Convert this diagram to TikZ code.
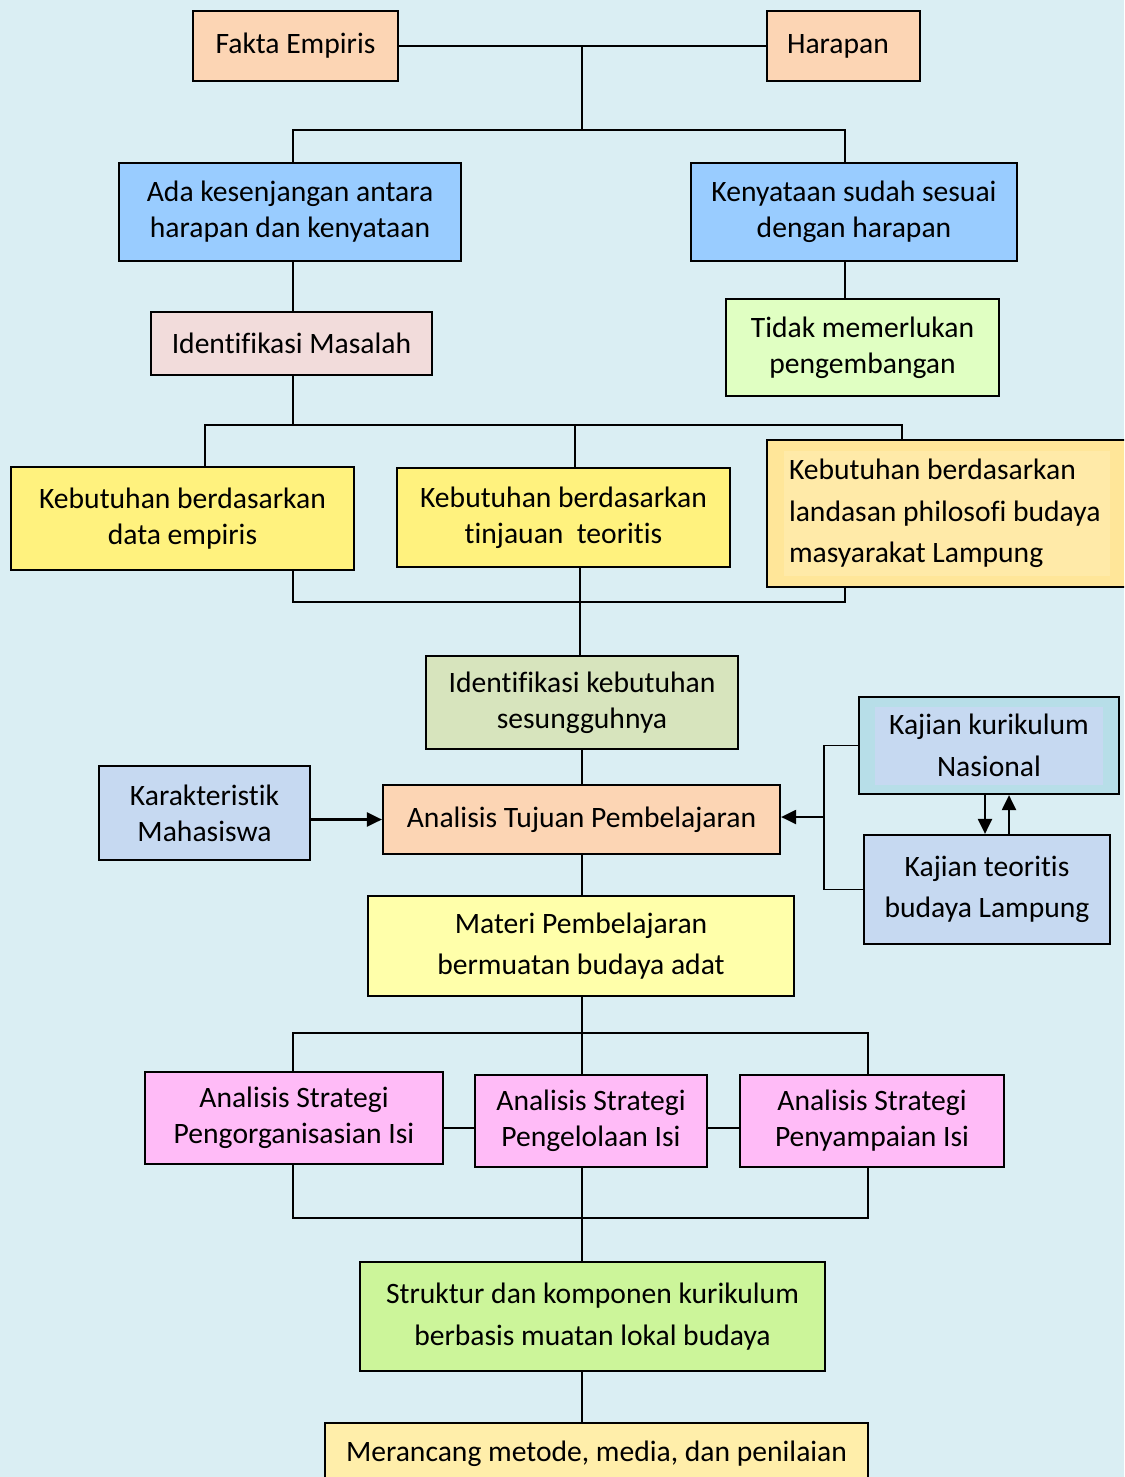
\documentclass[tikz,border=0pt]{standalone}
\usepackage{fontspec}
\setmainfont{Carlito}[Ligatures=NoCommon]
\usetikzlibrary{arrows.meta,calc}

\definecolor{bgc}{HTML}{DAEEF3}
\definecolor{peach}{HTML}{FCD5B4}
\definecolor{skyb}{HTML}{99CCFF}
\definecolor{rosec}{HTML}{F2DCDB}
\definecolor{limec}{HTML}{E0FFC2}
\definecolor{yelc}{HTML}{FFF27E}
\definecolor{goldo}{HTML}{FFE699}
\definecolor{goldi}{HTML}{FFEAA8}
\definecolor{olivec}{HTML}{D7E4BD}
\definecolor{lavc}{HTML}{C6D9F1}
\definecolor{tealc}{HTML}{B7DEE8}
\definecolor{paley}{HTML}{FFFFAA}
\definecolor{pinkc}{HTML}{FFBBF7}
\definecolor{greenc}{HTML}{CCF59A}
\definecolor{creamc}{HTML}{FFEEAA}

% box given by its corners (in pixel-like units) and fill colour
\newcommand\bx[8][]{%
  \node[box,fill=#7,minimum width={(#5-#3)*0.5pt},minimum height={(#6-#4)*0.5pt},#1]
    (#2) at ({(#3+#5)/2},{(#4+#6)/2}) {#8};}

\begin{document}
\begin{tikzpicture}[x=0.5pt,y=-0.5pt,
  box/.style={draw=black,line width=1.1pt,inner sep=0pt,align=center,
    font=\fontsize{14.8}{18}\selectfont},
  wide/.style={font=\fontsize{14.8}{20.7}\selectfont},
  link/.style={line width=0.9pt},
  arr/.style={line width=1.1pt,-{Triangle[length=7.5pt,width=7pt]}}]

\clip (0,0) rectangle (1124,1477);
\fill[bgc] (0,0) rectangle (1124,1477);

% top level
\bx{fakta}{193}{11}{398}{81}{peach}{\raisebox{2pt}{Fakta Empiris}}
\bx{harapan}{767}{11}{920}{81}{peach}{\raisebox{2pt}{Harapan}\hspace*{5.5pt}}

\bx{ada}{119}{163}{461}{261}{skyb}{Ada kesenjangan antara\\harapan dan kenyataan}
\bx{keny}{691}{163}{1017}{261}{skyb}{Kenyataan sudah sesuai\\dengan harapan}

\bx{idm}{151}{312}{432}{375}{rosec}{Identifikasi Masalah}
\bx{tidak}{726}{299}{999}{396}{limec}{Tidak memerlukan\\pengembangan}

% needs
\bx{kd}{11}{467}{354}{570}{yelc}{Kebutuhan berdasarkan\\data empiris}
\bx{kt}{397}{468}{730}{567}{yelc}{Kebutuhan berdasarkan\\tinjauan\ \ teoritis}
\bx[wide,align=flush left,text width=159.5pt,
  path picture={\fill[goldi] ([shift={(8.5pt,-5.5pt)}]path picture bounding box.north west)
    rectangle ([shift={(-10pt,5.5pt)}]path picture bounding box.south east);}]
  {kl}{767}{440}{1130}{587}{goldo}{Kebutuhan berdasarkan\\landasan philosofi budaya\\masyarakat Lampung}

\bx{ikb}{426}{656}{738}{749}{olivec}{Identifikasi kebutuhan\\sesungguhnya}
\bx{atp}{383}{785}{780}{854}{peach}{Analisis Tujuan Pembelajaran}
\bx{km}{99}{766}{310}{860}{lavc}{Karakteristik\\Mahasiswa}
\bx[wide,
  path picture={\fill[lavc] ([shift={(8pt,-5pt)}]path picture bounding box.north west)
    rectangle ([shift={(-8pt,4.5pt)}]path picture bounding box.south east);}]
  {kn}{859}{697}{1119}{794}{tealc}{Kajian kurikulum\\Nasional}
\bx[wide]{kb}{864}{835}{1110}{944}{lavc}{Kajian teoritis\\budaya Lampung}

\bx[wide]{mp}{368}{896}{794}{996}{paley}{Materi Pembelajaran\\bermuatan budaya adat}

\bx{s1}{145}{1072}{443}{1164}{pinkc}{Analisis Strategi\\Pengorganisasian Isi}
\bx{s2}{475}{1075}{707}{1167}{pinkc}{Analisis Strategi\\Pengelolaan Isi}
\bx{s3}{740}{1075}{1004}{1167}{pinkc}{Analisis Strategi\\Penyampaian Isi}

\bx[wide]{sk}{360}{1262}{825}{1371}{greenc}{Struktur dan komponen kurikulum\\berbasis muatan lokal budaya}
\bx{mr}{325}{1423}{868}{1484}{creamc}{Merancang metode, media, dan penilaian}

% junction points of the connectors
\coordinate (t1) at (582,46);
\coordinate (t2) at (582,130);
\coordinate (c1) at (293,130);
\coordinate (c2) at (845,130);
\coordinate (c3) at (293,425);
\coordinate (c4) at (205,425);
\coordinate (c5) at (575,425);
\coordinate (c6) at (902,425);
\coordinate (c7) at (293,602);
\coordinate (c8) at (845,602);
\coordinate (c9) at (580,602);
\coordinate (c10) at (824,817);
\coordinate (c11) at (985,0);
\coordinate (c12) at (1009,0);
\coordinate (c13) at (582,1033);
\coordinate (c14) at (293,1033);
\coordinate (c15) at (868,1033);
\coordinate (c16) at (293,1218);
\coordinate (c17) at (868,1218);
\coordinate (c18) at (582,1218);

% connectors
\draw[link] (fakta.east) -- (harapan.west);
\draw[link] (t1) -- (t2);
\draw[link] (ada.north -| c1) -- (c1) -- (c2) -- (keny.north -| c2);
\draw[link] (ada.south -| c1) -- (idm.north -| c1);
\draw[link] (keny.south -| c2) -- (tidak.north -| c2);
\draw[link] (idm.south -| c3) -- (c3);
\draw[link] (kd.north -| c4) -- (c4) -- (c6) -- (kl.north -| c6);
\draw[link] (c5) -- (kt.north -| c5);
\draw[link] (kd.south -| c7) -- (c7) -- (c8) -- (kl.south -| c8);
\draw[link] (kt.south -| c9) -- (ikb.north -| c9);
\draw[link] (ikb.south -| t1) -- (atp.north -| t1);
\draw[arr] (atp.west -| km.east) -- (atp.west);
\draw[link] (kn.west) -- (kn.west -| c10) -- (kb.west -| c10) -- (kb.west);
\draw[arr] (c10) -- (c10 -| atp.east);
\draw[arr] (kn.south -| c11) -- (kb.north -| c11);
\draw[arr] (kb.north -| c12) -- (kn.south -| c12);
\draw[link] (atp.south -| c13) -- (mp.north -| c13);
\draw[link] (mp.south -| c13) -- (c13);
\draw[link] (s1.north -| c14) -- (c14) -- (c15) -- (s3.north -| c15);
\draw[link] (c13) -- (s2.north -| c13);
\draw[link] ([yshift=-5pt]s1.east) -- ([yshift=-5pt]s1.east -| s2.west);
\draw[link] ([yshift=-3.5pt]s2.east) -- ([yshift=-3.5pt]s2.east -| s3.west);
\draw[link] (s1.south -| c16) -- (c16) -- (c17) -- (s3.south -| c17);
\draw[link] (s2.south -| c18) -- (sk.north -| c18);
\draw[link] (sk.south -| c18) -- (mr.north -| c18);
\end{tikzpicture}
\end{document}
